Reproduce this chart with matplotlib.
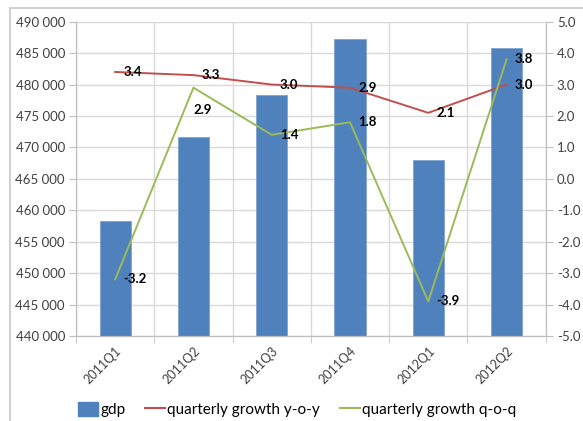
import matplotlib.pyplot as plt
import numpy as np
from matplotlib.patches import Patch, Rectangle
from matplotlib.lines import Line2D

plt.rcParams['font.family'] = ['Lato', 'DejaVu Sans']

# quarterly data
quarters = ['2011Q1', '2011Q2', '2011Q3', '2011Q4', '2012Q1', '2012Q2']
gdp = [458300, 471700, 478400, 487200, 468000, 485800]
growth_yoy = [3.4, 3.3, 3.0, 2.9, 2.1, 3.0]
growth_qoq = [-3.2, 2.9, 1.4, 1.8, -3.9, 3.8]

blue = '#4F81BD'
red = '#C0504D'
green = '#9BBB59'
grid_col = '#D9D9D9'
axis_col = '#BFBFBF'
text_col = '#404040'

fig = plt.figure(figsize=(5.83, 4.21), dpi=100)
ax = fig.add_axes([0.1304, 0.2019, 0.8056, 0.7466])
ax2 = ax.twinx()

x = np.arange(len(quarters))
ax.bar(x, gdp, width=0.4, color=blue, edgecolor='#7FA3D1', linewidth=0.6, zorder=2)
ax.set_xlim(-0.5, len(quarters) - 0.5)
ax.set_ylim(440000, 490000)
ax.set_yticks(np.arange(440000, 490001, 5000))
ax.set_yticklabels(['{:,}'.format(v).replace(',', ' ') for v in range(440000, 490001, 5000)])

# category ticks sit at the boundaries, labels at the centres
ax.set_xticks(x)
ax.set_xticklabels(quarters, rotation=45, ha='right', rotation_mode='anchor', fontsize=9, color=text_col)
ax.tick_params(axis='x', which='major', length=0, pad=6)
ax.set_xticks(np.arange(-0.5, len(quarters), 1), minor=True)
ax.tick_params(axis='x', which='minor', length=5, color=axis_col)
ax.grid(True, which='minor', axis='x', color=grid_col, lw=1)
ax.grid(True, which='major', axis='y', color=grid_col, lw=1)
ax.set_axisbelow(True)
ax.tick_params(axis='y', length=5, color=axis_col, labelsize=9.5, labelcolor=text_col, pad=3)

ax2.plot(x, growth_yoy, color=red, lw=1.4, zorder=3)
ax2.plot(x, growth_qoq, color=green, lw=1.4, zorder=3)
ax2.set_ylim(-5, 5)
ax2.set_yticks(np.arange(-5, 5.1, 1))
ax2.set_yticklabels(['{:.1f}'.format(v) for v in np.arange(-5, 5.1, 1)])
ax2.tick_params(axis='y', length=5, color=axis_col, labelsize=9.5, labelcolor=text_col, pad=3)

for a in (ax, ax2):
    for s in a.spines.values():
        s.set_color(axis_col)
    a.spines['top'].set_visible(False)

# value labels, right of each point
for xi, v in zip(x, growth_yoy):
    ax2.annotate('{:.1f}'.format(v), (xi, v), xytext=(6, 0), textcoords='offset points',
                 ha='left', va='center', fontsize=9.5, fontweight='bold', color='black', zorder=4)
for xi, v in zip(x, growth_qoq):
    off = (6, 0)
    if xi == 1:
        off = (0, -16)
    ax2.annotate('{:.1f}'.format(v), (xi, v), xytext=off, textcoords='offset points',
                 ha='left', va='center', fontsize=9.5, fontweight='bold', color='black', zorder=4)

handles = [Patch(facecolor=blue, edgecolor=blue),
           Line2D([], [], color=red, lw=1.5),
           Line2D([], [], color=green, lw=1.5)]
fig.legend(handles, ['gdp', 'quarterly growth y-o-y', 'quarterly growth q-o-q'],
           loc='center', bbox_to_anchor=(0.51, 0.027), ncol=3, frameon=False,
           fontsize=11, handlelength=1.3, handleheight=1.0, handletextpad=0.15,
           columnspacing=1.3, labelcolor='black')

# outer chart frame
fig.patches.append(Rectangle((10 / 583, -0.05), 1.0, 1.03, transform=fig.transFigure,
                             fill=False, edgecolor='#C8C8C8', lw=1.2))

fig.savefig('out.png', dpi=100)
